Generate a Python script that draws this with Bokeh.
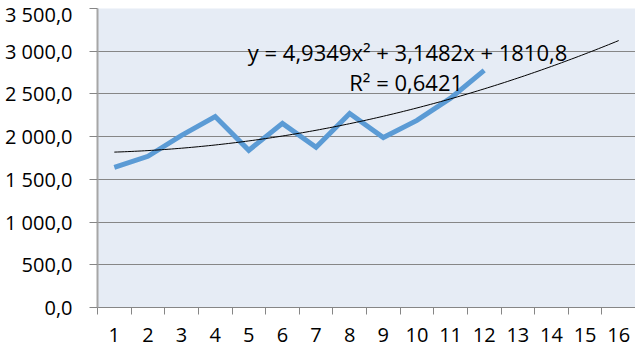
from bokeh.plotting import figure
from bokeh.models import Range1d, FixedTicker, ColumnDataSource, Label
from bokeh.embed import file_html
from bokeh.resources import INLINE

# ---- data ----
periods = [1, 2, 3, 4, 5, 6, 7, 8, 9, 10, 11, 12]
values = [1640, 1770, 2015, 2235, 1840, 2155, 1875, 2270, 1990, 2190, 2450, 2775]
axis_categories = list(range(1, 17))
y_ticks = [0, 500, 1000, 1500, 2000, 2500, 3000, 3500]
y_tick_labels = ["0,0", "500,0", "1 000,0", "1 500,0", "2 000,0", "2 500,0", "3 000,0", "3 500,0"]
trend_coef = [4.9349, 3.1482, 1810.8]  # a, b, c of the displayed polynomial trendline
equation_text = "y = 4,9349x² + 3,1482x + 1810,8"
r2_text = "R² = 0,6421"

# trendline evaluated along the axis, from the displayed coefficients
trend_x = [i / 10 for i in range(10, 161)]
trend_y = [trend_coef[0] * x * x + trend_coef[1] * x + trend_coef[2] for x in trend_x]

FONT = "Open Sans"

p = figure(width=635, height=348, output_backend="svg", toolbar_location=None,
           x_range=Range1d(0.5, 16.5), y_range=Range1d(0, 3500),
           min_border_left=97, min_border_right=0, min_border_top=8, min_border_bottom=41)
p.background_fill_color = "#E6ECF5"
p.border_fill_color = "white"
p.outline_line_color = None

# series
src = ColumnDataSource(dict(x=periods, y=values))
p.line("x", "y", source=src, line_color="#5B9BD5", line_width=5, line_join="miter")
tsrc = ColumnDataSource(dict(x=trend_x, y=trend_y))
p.line("x", "y", source=tsrc, line_color="black", line_width=1)

# y axis
yax = p.yaxis[0]
yax.ticker = FixedTicker(ticks=y_ticks)
yax.major_label_overrides = {t: l for t, l in zip(y_ticks, y_tick_labels)}
yax.major_label_text_font = FONT
yax.major_label_text_font_size = "20px"
yax.major_label_text_color = "black"
yax.major_tick_out = 8
yax.major_tick_in = 0
yax.major_tick_line_color = "#868686"
yax.minor_tick_line_color = None
yax.axis_line_color = "#A6A6A6"
yax.axis_line_width = 2
yax.major_label_standoff = 17

# x axis: labels at category centres, ticks between categories
xax = p.xaxis[0]
xax.ticker = FixedTicker(ticks=axis_categories,
                         minor_ticks=[c - 0.5 for c in axis_categories] + [axis_categories[-1] + 0.5])
xax.major_tick_line_color = None
xax.major_tick_out = 0
xax.major_tick_in = 0
xax.minor_tick_out = 7
xax.minor_tick_in = 0
xax.minor_tick_line_color = "#868686"
xax.axis_line_color = "#868686"
xax.major_label_text_font = FONT
xax.major_label_text_font_size = "20px"
xax.major_label_text_color = "black"
xax.major_label_standoff = 13

p.xgrid.grid_line_color = None
p.ygrid.ticker = FixedTicker(ticks=y_ticks)
p.ygrid.grid_line_color = "#868686"
p.ygrid.grid_line_width = 1

# trendline labels
p.add_layout(Label(x=9.72, y=2990, text=equation_text, text_align="center",
                   text_baseline="alphabetic", text_font=FONT, text_font_size="22px",
                   text_color="black"))
p.add_layout(Label(x=9.68, y=2640, text=r2_text, text_align="center",
                   text_baseline="alphabetic", text_font=FONT, text_font_size="22px",
                   text_color="black"))

open("out.html", "w").write(file_html(p, INLINE))
